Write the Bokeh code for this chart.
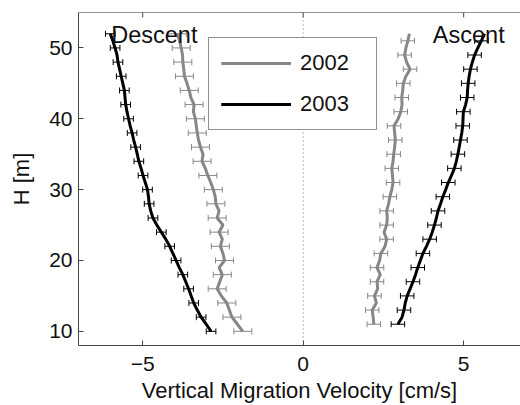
from bokeh.plotting import figure
from bokeh.models import ColumnDataSource, Whisker, TeeHead, Span, FixedTicker, Range1d
from bokeh.core.properties import value
from bokeh.embed import file_html
from bokeh.resources import INLINE

# ---- data ----
H_desc = list(range(10, 53))          # depth levels for descent profiles [m]
H_asc = list(range(11, 53))           # depth levels for ascent profiles [m]

desc_2002 = [-1.88, -2.05, -2.22, -2.30, -2.38, -2.55, -2.68, -2.60, -2.52, -2.62,
             -2.45, -2.50, -2.58, -2.52, -2.62, -2.50, -2.68, -2.62, -2.72, -2.74,
             -2.80, -2.88, -2.97, -3.05, -3.15, -3.12, -3.20, -3.26, -3.30, -3.33,
             -3.36, -3.42, -3.40, -3.50, -3.55, -3.62, -3.70, -3.72, -3.75, -3.76,
             -3.80, -3.85, -3.92]
desc_2003 = [-2.87, -3.02, -3.18, -3.30, -3.41, -3.49, -3.57, -3.66, -3.75, -3.86,
             -3.96, -4.06, -4.16, -4.28, -4.42, -4.56, -4.68, -4.75, -4.80, -4.82,
             -4.85, -4.92, -4.99, -5.05, -5.12, -5.17, -5.22, -5.28, -5.33, -5.39,
             -5.44, -5.49, -5.53, -5.55, -5.57, -5.62, -5.67, -5.72, -5.77, -5.80,
             -5.86, -5.93, -6.01]
asc_2002 = [2.20, 2.18, 2.15, 2.28, 2.22, 2.32, 2.30, 2.40, 2.30, 2.38,
            2.42, 2.55, 2.60, 2.52, 2.60, 2.62, 2.60, 2.66, 2.70, 2.76,
            2.80, 2.78, 2.76, 2.80, 2.82, 2.85, 2.87, 2.85, 2.83, 2.96,
            3.04, 3.08, 3.07, 3.10, 3.12, 3.20, 3.33, 3.22, 3.16, 3.20,
            3.26, 3.31]
asc_2003 = [2.95, 3.08, 3.14, 3.18, 3.24, 3.33, 3.42, 3.50, 3.57, 3.65,
            3.73, 3.84, 3.94, 4.02, 4.09, 4.15, 4.20, 4.28, 4.35, 4.44,
            4.52, 4.62, 4.71, 4.77, 4.82, 4.86, 4.90, 4.94, 4.97, 4.98,
            4.99, 5.06, 5.11, 5.12, 5.14, 5.17, 5.21, 5.27, 5.34, 5.44,
            5.55, 5.65]

err_desc_2002 = 0.28
err_desc_2003 = 0.15
err_asc_2002 = 0.21
err_asc_2003 = 0.21

years = ["2002", "2003"]
x_ticks = [-5, 0, 5]
y_ticks = [10, 20, 30, 40, 50]
X_MIN, X_MAX = -7, 6.77
Y_MIN, Y_MAX = 8, 55

FONT = "Liberation Sans"
GREY = "#878787"
BLACK = "#000000"
AXIS = "#444444"

p = figure(width=520, height=405, output_backend="svg", toolbar_location=None,
           x_range=Range1d(X_MIN, X_MAX), y_range=Range1d(Y_MIN, Y_MAX),
           min_border_left=78, min_border_right=0, min_border_top=12, min_border_bottom=10,
           x_axis_label="Vertical Migration Velocity [cm/s]", y_axis_label="H [m]")
p.outline_line_color = None
p.xgrid.grid_line_color = None
p.ygrid.grid_line_color = None
p.background_fill_color = "white"
p.border_fill_color = "white"

# zero line
p.add_layout(Span(location=0, dimension="height", line_color="#777777",
                  line_width=1, line_dash="1 3"))

# top frame line with inward ticks
p.add_layout(Span(location=Y_MAX, dimension="width", line_color="#222222", line_width=1))
p.segment(x0=x_ticks, y0=[Y_MAX] * len(x_ticks), x1=x_ticks,
          y1=[Y_MAX - 0.7] * len(x_ticks), line_color=AXIS, line_width=1)

def add_profile(xs, hs, err, color, lw, label, bar_step_start):
    # error bars every 2 m
    idx = [i for i, h in enumerate(hs) if (h - bar_step_start) % 2 == 0]
    src = ColumnDataSource(dict(h=[hs[i] for i in idx],
                                lo=[xs[i] - err for i in idx],
                                hi=[xs[i] + err for i in idx]))
    w = Whisker(source=src, base="h", lower="lo", upper="hi", dimension="width",
                line_color=color, line_width=1,
                upper_head=TeeHead(size=6, line_color=color, line_width=1),
                lower_head=TeeHead(size=6, line_color=color, line_width=1))
    p.add_layout(w)
    p.line(xs, hs, line_color=color, line_width=lw, legend_label=label)

add_profile(desc_2002, H_desc, err_desc_2002, GREY, 3, years[0], 10)
add_profile(asc_2002, H_asc, err_asc_2002, GREY, 3, years[0], 11)
add_profile(desc_2003, H_desc, err_desc_2003, BLACK, 3, years[1], 10)
add_profile(asc_2003, H_asc, err_asc_2003, BLACK, 3, years[1], 11)

# annotations
p.text(x=[-5.98], y=[51.8], text=["Descent"], text_font=value(FONT),
       text_font_size="23.5px", text_color="#111111", text_baseline="alphabetic",
       text_align="left")
p.text(x=[4.04], y=[51.8], text=["Ascent"], text_font=value(FONT),
       text_font_size="23.5px", text_color="#111111", text_baseline="alphabetic",
       text_align="left")

# axes styling
for ax in p.xaxis:
    ax.ticker = FixedTicker(ticks=x_ticks)
    ax.major_label_overrides = {-5: "\u22125"}
for ax in p.yaxis:
    ax.ticker = FixedTicker(ticks=y_ticks)
for ax in list(p.xaxis) + list(p.yaxis):
    ax.major_tick_in = 5
    ax.major_tick_out = 0
    ax.minor_tick_line_color = None
    ax.axis_line_color = AXIS
    ax.major_tick_line_color = AXIS
    ax.major_label_text_font = FONT
    ax.major_label_text_font_size = "21px"
    ax.major_label_text_color = "#111111"
    ax.axis_label_text_font = FONT
    ax.axis_label_text_font_size = "22px"
    ax.axis_label_text_font_style = "normal"
    ax.axis_label_text_color = "#111111"
p.xaxis.major_label_standoff = 11
p.xaxis.axis_label_standoff = 4
p.yaxis.major_label_standoff = 6
p.yaxis.axis_label_standoff = 12

# legend
lg = p.legend[0]
lg.location = (130, 215)
lg.border_line_color = "#222222"
lg.border_line_width = 1
lg.background_fill_alpha = 1
lg.padding = 12
lg.spacing = 15
lg.margin = 0
lg.glyph_width = 70
lg.glyph_height = 24
lg.label_height = 24
lg.label_width = 64
lg.label_standoff = 9
lg.label_text_font = FONT
lg.label_text_font_size = "22px"
lg.label_text_color = "#111111"

open("out.html", "w").write(file_html(p, INLINE))
